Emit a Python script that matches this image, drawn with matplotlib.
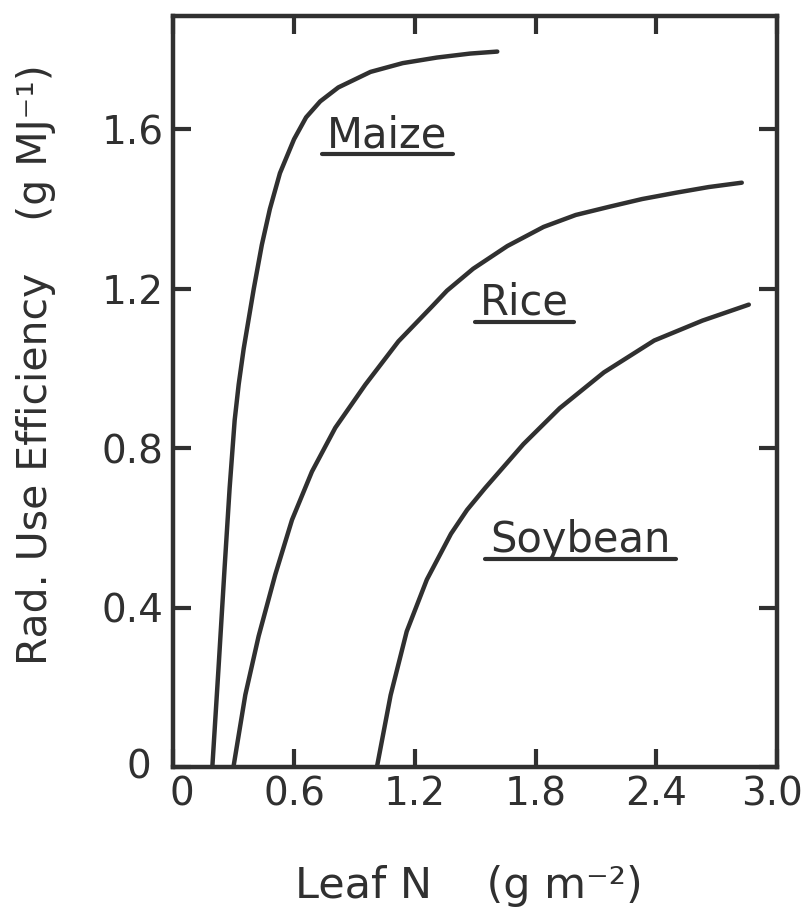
import numpy as np
import matplotlib
matplotlib.use("Agg")
import matplotlib.pyplot as plt
from matplotlib.transforms import ScaledTranslation

# leaf N (g m-2) vs radiation use efficiency (g MJ-1)
maize_n = [0.194, 0.225, 0.255, 0.28, 0.305, 0.325, 0.35, 0.40, 0.44, 0.48, 0.53, 0.60,
           0.66, 0.73, 0.82, 0.98, 1.14, 1.31, 1.475, 1.61]
maize_rue = [0.0, 0.25, 0.50, 0.70, 0.87, 0.96, 1.05, 1.20, 1.31, 1.40, 1.49, 1.575,
             1.63, 1.67, 1.705, 1.744, 1.766, 1.78, 1.79, 1.795]

rice_n = [0.299, 0.358, 0.424, 0.507, 0.590, 0.689, 0.805, 0.954, 1.119, 1.285,
          1.36, 1.49, 1.66, 1.84, 2.00, 2.17, 2.33, 2.50, 2.66, 2.825]
rice_rue = [0.0, 0.181, 0.328, 0.483, 0.620, 0.741, 0.851, 0.959, 1.068, 1.155,
            1.195, 1.25, 1.307, 1.355, 1.385, 1.406, 1.425, 1.441, 1.455, 1.466]

soy_n = [1.012, 1.08, 1.16, 1.26, 1.38, 1.46, 1.55, 1.74, 1.92, 2.14, 2.39, 2.63, 2.86]
soy_rue = [0.0, 0.18, 0.34, 0.47, 0.585, 0.645, 0.70, 0.81, 0.90, 0.99, 1.07, 1.12, 1.16]

crop_names = ['Maize', 'Rice', 'Soybean']
label_x = [0.765, 1.525, 1.575]
label_y = [1.555, 1.135, 0.54]

xticks = [0, 0.6, 1.2, 1.8, 2.4, 3.0]
xticklabels = ['0', '0.6', '1.2', '1.8', '2.4', '3.0']
yticks = [0, 0.4, 0.8, 1.2, 1.6]
yticklabels = ['0', '0.4', '0.8', '1.2', '1.6']

ink = '#303030'

fig = plt.figure(figsize=(8.06, 9.24), dpi=100)
ax = fig.add_axes([0.215, 0.170, 0.749, 0.813])

for xs, ys in [(maize_n, maize_rue), (rice_n, rice_rue), (soy_n, soy_rue)]:
    ax.plot(xs, ys, color=ink, lw=3.2, solid_capstyle='round', solid_joinstyle='round')

ax.set_xlim(0, 3.0)
ax.set_ylim(0, 1.885)
ax.set_xticks(xticks)
ax.set_xticklabels(xticklabels)
ax.set_yticks(yticks)
ax.set_yticklabels(yticklabels)
ax.tick_params(direction='in', length=13, width=3, top=True, right=True,
               labelsize=28, colors=ink)
ax.tick_params(axis='x', pad=6)
ax.tick_params(axis='y', pad=7)
for s in ax.spines.values():
    s.set_linewidth(3.2)
    s.set_color(ink)

# nudge the corner labels apart like the original lettering
xl = ax.get_xticklabels()
yl = ax.get_yticklabels()
xl[0].set_transform(xl[0].get_transform() + ScaledTranslation(0.09, 0, fig.dpi_scale_trans))
xl[-1].set_transform(xl[-1].get_transform() + ScaledTranslation(-0.05, 0, fig.dpi_scale_trans))
yl[0].set_transform(yl[0].get_transform() + ScaledTranslation(-0.12, 0.03, fig.dpi_scale_trans))

ax.set_xlabel('Leaf N    (g m⁻²)', fontsize=31, color=ink)
ax.set_ylabel('Rad. Use Efficiency    (g MJ⁻¹)', fontsize=29.5, color=ink)
ax.xaxis.set_label_coords(0.49, -0.13)
ax.yaxis.set_label_coords(-0.195, 0.535)

# crop names, underlined
texts = []
for name, x, y in zip(crop_names, label_x, label_y):
    t = ax.text(x, y, name, fontsize=30, color=ink, va='baseline', ha='left')
    texts.append(t)

fig.canvas.draw()
inv = ax.transData.inverted()
for t in texts:
    bx, by = ax.transData.transform(t.get_position())
    bb = t.get_window_extent()
    (x0, y0), (x1, _) = inv.transform([(bb.x0 - 5, by - 7), (bb.x1 + 5, by - 7)])
    ax.plot([x0, x1], [y0, y0], color=ink, lw=3, solid_capstyle='round')

plt.savefig('out.png', dpi=100)
